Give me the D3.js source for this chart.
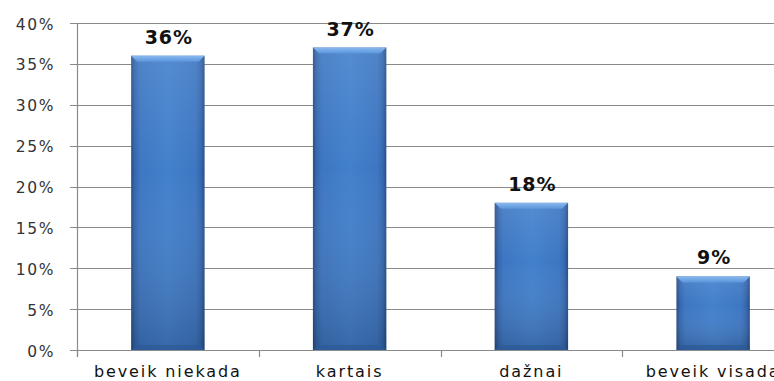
<!DOCTYPE html>
<html>
<head>
<meta charset="utf-8">
<script src="https://cdn.jsdelivr.net/npm/d3@7/dist/d3.min.js"></script>
<style>
  html, body { margin: 0; padding: 0; background: #fff; }
  svg { display: block; }
</style>
</head>
<body>
<svg id="chart" width="774" height="381"></svg>
<script>
// Survey answers and their shares
const categories = ["beveik niekada", "kartais", "dažnai", "beveik visada"];
const shares = [0.36, 0.37, 0.18, 0.09];
const valueLabels = ["36%", "37%", "18%", "9%"];
const yTicks = [0, 0.05, 0.10, 0.15, 0.20, 0.25, 0.30, 0.35, 0.40];
const yTickLabels = ["0%", "5%", "10%", "15%", "20%", "25%", "30%", "35%", "40%"];

const svg = d3.select("#chart");
const W = 774, H = 381;
const plotLeft = 77, plotRight = 804, plotTop = 23, plotBottom = 350;

const x = d3.scaleBand().domain(categories).range([plotLeft, plotRight])
  .paddingInner(0.596).paddingOuter(0.298);
const y = d3.scaleLinear().domain([0, 0.4]).range([plotBottom, plotTop]);

// gradients for the bevelled bars
const defs = svg.append("defs");
const hg = defs.append("linearGradient").attr("id", "barH")
  .attr("x1", "0").attr("x2", "1").attr("y1", "0").attr("y2", "0");
[["0%", "#254d88"], ["5%", "#3567ad"], ["12%", "#3d76c2"], ["50%", "#4280cc"],
 ["88%", "#3d76c2"], ["95%", "#3567ad"], ["100%", "#254d88"]]
  .forEach(([o, c]) => hg.append("stop").attr("offset", o).attr("stop-color", c));
const vg = defs.append("linearGradient").attr("id", "barV")
  .attr("x1", "0").attr("x2", "0").attr("y1", "0").attr("y2", "1");
[["0%", "#ffffff", 0.10], ["40%", "#ffffff", 0.0], ["100%", "#000000", 0.18]]
  .forEach(([o, c, a]) => vg.append("stop").attr("offset", o).attr("stop-color", c).attr("stop-opacity", a));
const tg = defs.append("linearGradient").attr("id", "barTop")
  .attr("x1", "0").attr("x2", "0").attr("y1", "0").attr("y2", "1");
[["0%", "#8ab9ee"], ["100%", "#5a95dc"]]
  .forEach(([o, c]) => tg.append("stop").attr("offset", o).attr("stop-color", c));

// gridlines and y ticks
svg.append("g").selectAll("line").data(yTicks).join("line")
  .attr("x1", plotLeft - 7).attr("x2", W)
  .attr("y1", d => Math.round(y(d)) + 0.5).attr("y2", d => Math.round(y(d)) + 0.5)
  .attr("stroke", "#8a8a8a").attr("stroke-width", 1.2);

// y axis line
svg.append("line").attr("x1", plotLeft + 0.5).attr("x2", plotLeft + 0.5)
  .attr("y1", y(0.4)).attr("y2", y(0) + 7)
  .attr("stroke", "#8a8a8a").attr("stroke-width", 1.2);

// category tick marks at band boundaries
const step = x.step();
const bounds = d3.range(0, categories.length + 1).map(i => plotLeft + i * step);
svg.append("g").selectAll("line").data(bounds).join("line")
  .attr("x1", d => Math.round(d) + 0.5).attr("x2", d => Math.round(d) + 0.5)
  .attr("y1", y(0)).attr("y2", y(0) + 7)
  .attr("stroke", "#8a8a8a").attr("stroke-width", 1.2);

// y tick labels
svg.append("g").selectAll("text").data(yTicks).join("text")
  .attr("x", 55).attr("y", d => y(d) + 6.5)
  .attr("text-anchor", "end")
  .attr("font-family", "DejaVu Sans, Verdana, sans-serif")
  .attr("font-size", 15.5).attr("letter-spacing", 1.6)
  .attr("fill", "#333")
  .text((d, i) => yTickLabels[i]);

// bars
const bars = svg.append("g").selectAll("g").data(categories).join("g");
bars.append("rect")
  .attr("x", d => x(d)).attr("width", x.bandwidth())
  .attr("y", (d, i) => y(shares[i])).attr("height", (d, i) => y(0) - y(shares[i]))
  .attr("fill", "url(#barH)");
bars.append("rect")
  .attr("x", d => x(d)).attr("width", x.bandwidth())
  .attr("y", (d, i) => y(shares[i])).attr("height", (d, i) => y(0) - y(shares[i]))
  .attr("fill", "url(#barV)");
// top bevel
bars.append("path")
  .attr("d", (d, i) => {
    const x0 = x(d), x1 = x(d) + x.bandwidth(), t = y(shares[i]), b = 6;
    return `M${x0},${t}L${x1},${t}L${x1 - b},${t + b}L${x0 + b},${t + b}Z`;
  })
  .attr("fill", "url(#barTop)");
// bottom bevel
bars.append("path")
  .attr("d", d => {
    const x0 = x(d), x1 = x(d) + x.bandwidth(), b0 = y(0), b = 5;
    return `M${x0},${b0}L${x1},${b0}L${x1 - b},${b0 - b}L${x0 + b},${b0 - b}Z`;
  })
  .attr("fill", "#2c5a98").attr("opacity", 0.7);

// value labels
svg.append("g").selectAll("text").data(categories).join("text")
  .attr("x", d => x(d) + x.bandwidth() / 2 + 1)
  .attr("y", (d, i) => y(shares[i]) - 12)
  .attr("text-anchor", "middle")
  .attr("font-family", "DejaVu Sans, Verdana, sans-serif")
  .attr("font-weight", "bold")
  .attr("font-size", 19).attr("letter-spacing", 1)
  .attr("fill", "#111")
  .text((d, i) => valueLabels[i]);

// category labels
svg.append("g").selectAll("text").data(categories).join("text")
  .attr("x", d => x(d) + x.bandwidth() / 2)
  .attr("y", 377)
  .attr("text-anchor", "middle")
  .attr("font-family", "DejaVu Sans, Verdana, sans-serif")
  .attr("font-size", 16).attr("letter-spacing", 1.9)
  .attr("fill", "#111")
  .text(d => d);
</script>
</body>
</html>
